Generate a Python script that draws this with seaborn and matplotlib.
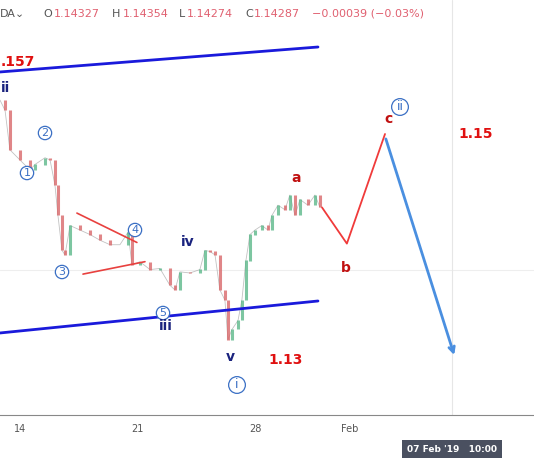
import matplotlib
matplotlib.use("Agg")
import matplotlib.pyplot as plt
import seaborn as sns
import pandas as pd
import numpy as np

days = [12.81, 13.11, 13.40, 14.0, 14.6, 14.89, 15.49, 15.79, 16.08, 16.26, 16.5, 16.68, 16.98, 17.57,
        18.17, 18.76, 19.36, 19.95, 20.43, 20.67, 21.14, 21.74, 22.33, 22.93, 23.23, 23.52, 24.12, 24.71,
        25.01, 25.31, 25.61, 25.9, 26.2, 26.38, 26.62, 26.98, 27.21, 27.45, 27.69, 27.99, 28.4, 28.76,
        29.0, 29.36, 29.77, 30.07, 30.37, 30.67, 31.14, 31.56, 31.86]
closes = [1.1530, 1.1521, 1.1486, 1.1477, 1.1468, 1.1473, 1.1479, 1.1477, 1.1455, 1.1428, 1.1397, 1.1393,
          1.1419, 1.1415, 1.1411, 1.1406, 1.1402, 1.1402, 1.1413, 1.1384, 1.1387, 1.1380, 1.1381, 1.1366,
          1.1362, 1.1378, 1.1377, 1.1380, 1.1397, 1.1396, 1.1393, 1.1362, 1.1353, 1.1318, 1.1327, 1.1335,
          1.1353, 1.1388, 1.1411, 1.1415, 1.1419, 1.1415, 1.1428, 1.1437, 1.1433, 1.1446, 1.1428, 1.1442,
          1.1437, 1.1446, 1.1435]
upper_channel_x = [12.81, 31.74]
upper_channel_y = [1.15549, 1.15770]
lower_channel_x = [12.81, 31.74]
lower_channel_y = [1.13239, 1.13522]
tri_upper_x = [17.39, 20.96]; tri_upper_y = [1.1430, 1.1404]
tri_lower_x = [17.75, 21.44]; tri_lower_y = [1.1376, 1.1387]
proj_x = [31.98, 33.46, 35.73]; proj_y = [1.1435, 1.1403, 1.1500]
arrow_x = [35.73, 39.9]; arrow_y = [1.1498, 1.1302]
tick_pos = [14, 21, 28, 33.6]
tick_labels = ["14", "21", "28", "Feb"]

sns.set_style("white")
fig = plt.figure(figsize=(5.34, 4.62), dpi=100)
ax = fig.add_axes([0, 47/462, 1, 415/462])
X0, X1 = 12.81, 44.6
Y0, Y1 = 1.12513, 1.16186
ax.set_xlim(X0, X1); ax.set_ylim(Y0, Y1)

def px(x, y):
    return X0 + x/534*(X1-X0), Y1 - y/415*(Y1-Y0)

df = pd.DataFrame({"day": days, "close": closes})
sns.lineplot(data=df, x="day", y="close", ax=ax, color="#999999", lw=0.6, alpha=0.6)
opens = [closes[0]] + closes[:-1]
for d, o, c in zip(days, opens, closes):
    col = "#5cb88a" if c >= o else "#d9686a"
    ax.vlines(d, min(o, c), max(o, c) + 1e-5, color=col, lw=2.2, alpha=0.8)

ax.plot(upper_channel_x, upper_channel_y, color="#1a1adb", lw=2)
ax.plot(lower_channel_x, lower_channel_y, color="#1a1adb", lw=2)
ax.plot(tri_upper_x, tri_upper_y, color="#e8413f", lw=1.2)
ax.plot(tri_lower_x, tri_lower_y, color="#e8413f", lw=1.2)
ax.plot(proj_x, proj_y, color="#f03a3a", lw=1.3)
ax.annotate("", xy=(arrow_x[1], arrow_y[1]), xytext=(arrow_x[0], arrow_y[0]),
            arrowprops=dict(arrowstyle="->", color="#4a8fe0", lw=2))
ax.axhline(px(0, 270)[1], color="#eeeeee", lw=0.8, zorder=0)
ax.axvline(px(452, 0)[0], color="#e6e6e6", lw=0.8, zorder=0)

def t(x, y, s, c, size=10, bold=True, ha="center"):
    xx, yy = px(x, y)
    ax.text(xx, yy, s, color=c, fontsize=size, fontweight="bold" if bold else "normal",
            ha=ha, va="center")

def circ(x, y, s, size=8):
    xx, yy = px(x, y)
    ax.text(xx, yy, s, color="#3a6fc4", fontsize=size, ha="center", va="center",
            bbox=dict(boxstyle="circle,pad=0.15", fc="white", ec="#3a6fc4", lw=0.9))

t(1, 62, ".157", "#e01010", 10, ha="left")
t(6, 88, "ii", "#1a237e", 10)
circ(27, 173, "1"); circ(45, 133, "2"); circ(62, 272, "3"); circ(135, 230, "4"); circ(163, 313, "5")
t(166, 326, "iii", "#1a237e", 10)
t(188, 242, "iv", "#1a237e", 10)
t(230, 357, "v", "#1a237e", 10)
circ(237, 385, "i", 9)
circ(400, 107, "ii", 9)
t(296, 178, "a", "#c01010", 10)
t(346, 268, "b", "#c01010", 10)
t(388, 119, "c", "#c01010", 10)
t(476, 134, "1.15", "#e01010", 10)
t(286, 360, "1.13", "#e01010", 10)

for s in ["top", "right", "left"]:
    ax.spines[s].set_visible(False)
ax.spines["bottom"].set_color("#888888")
ax.set_yticks([])
ax.set_xticks(tick_pos)
ax.set_xticklabels(tick_labels, fontsize=7, color="#555555")
ax.tick_params(axis="x", length=3, color="#888888")
ax.set_xlabel(""); ax.set_ylabel("")

fig.text(452/534, 1-449/462, "07 Feb '19   10:00", fontsize=6.5, color="white", ha="center",
         va="center", fontweight="bold",
         bbox=dict(boxstyle="square,pad=0.5", fc="#4a5060", ec="none"))

hdr = [("DA⌄", 0, "#555555"), ("O", 43, "#555555"), ("1.14327", 54, "#e06070"),
       ("H", 112, "#555555"), ("1.14354", 123, "#e06070"), ("L", 179, "#555555"),
       ("1.14274", 187, "#e06070"), ("C", 245, "#555555"), ("1.14287", 254, "#e06070"),
       ("−0.00039 (−0.03%)", 312, "#e06070")]
for s, x, c in hdr:
    fig.text(x/534, 1-14/462, s, fontsize=8, color=c, ha="left", va="center")

fig.savefig("out.png", dpi=100)
